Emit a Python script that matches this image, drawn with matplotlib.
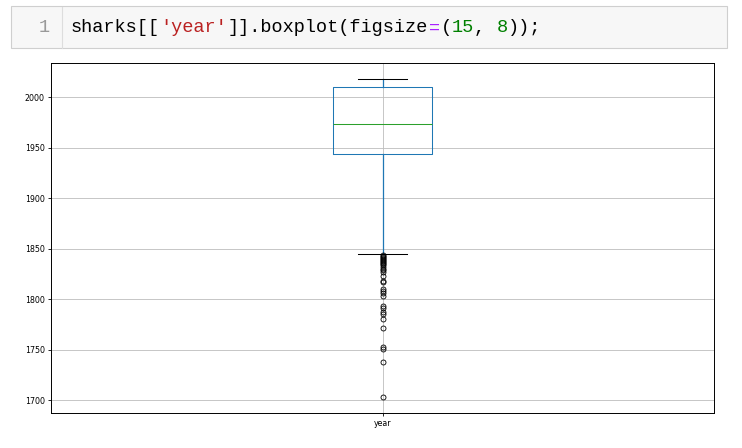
import matplotlib
matplotlib.use("Agg")
import matplotlib.pyplot as plt
from matplotlib.patches import Rectangle

# ---- data ----
column = "year"
box_q1 = 1943.5
box_median = 1973.5
box_q3 = 2009.5
whisker_low = 1845
whisker_high = 2018
fliers = [1703, 1738, 1751, 1753, 1771, 1780, 1785, 1787, 1791, 1793,
          1803, 1806, 1808, 1810, 1817, 1818, 1823, 1827, 1829, 1830,
          1832, 1834, 1835, 1836, 1837, 1838, 1839, 1840, 1841, 1842,
          1843, 1844]
y_ticks = [1700, 1750, 1800, 1850, 1900, 1950, 2000]

code_tokens = [("sharks[[", "#000000"), ("'year'", "#BA2121"), ("]].boxplot(figsize", "#000000"),
               ("=", "#AA22FF"), ("(", "#000000"), ("15", "#008000"), (", ", "#000000"),
               ("8", "#008000"), ("));", "#000000")]

W, H = 742, 448
fig = plt.figure(figsize=(W / 100, H / 100), dpi=100)
fig.patch.set_facecolor("white")

# ---- code cell ----
fig.patches.append(Rectangle((10.5 / W, 1 - 48.5 / H), 716 / W, 42 / H, transform=fig.transFigure,
                             facecolor="#f7f7f7", edgecolor="#cfcfcf", linewidth=0.8))
fig.lines.append(plt.Line2D([62 / W, 62 / W], [1 - 48 / H, 1 - 7 / H], transform=fig.transFigure,
                            color="#dddddd", linewidth=0.8))
fig.text(44 / W, 1 - 28 / H, "1", color="#999999", fontsize=13.4, family="Liberation Mono",
         ha="center", va="center")
char_px = 11.2
pos = 0
for tok, col in code_tokens:
    fig.text((71 + pos * char_px) / W, 1 - 28 / H, tok, color=col, fontsize=13.4,
             family="Liberation Mono", ha="left", va="center")
    pos += len(tok)

# ---- boxplot ----
ax = fig.add_axes([51 / W, 1 - 413 / H, 663 / W, 350 / H])
stats = [dict(med=box_median, q1=box_q1, q3=box_q3, whislo=whisker_low, whishi=whisker_high,
              fliers=fliers, label=column)]
lw = 0.75
ax.bxp(stats, positions=[1], widths=0.15,
       boxprops=dict(color="#1f77b4", linewidth=lw),
       whiskerprops=dict(color="#1f77b4", linewidth=0.9),
       capprops=dict(color="black", linewidth=lw),
       medianprops=dict(color="#2ca02c", linewidth=lw),
       flierprops=dict(marker="o", markerfacecolor="none", markeredgecolor="black",
                       markersize=3.6, markeredgewidth=0.6))
ax.set_xlim(0.5, 1.5)
ax.set_ylim(1687.25, 2033.75)
ax.set_yticks(y_ticks)
ax.grid(True, color="#bdbdbd", linewidth=0.6)
ax.set_axisbelow(True)
ax.tick_params(labelsize=5.7, length=2.5, width=0.6, pad=2)
for s in ax.spines.values():
    s.set_linewidth(0.7)
    s.set_color("black")

fig.savefig("out.png", dpi=100)
